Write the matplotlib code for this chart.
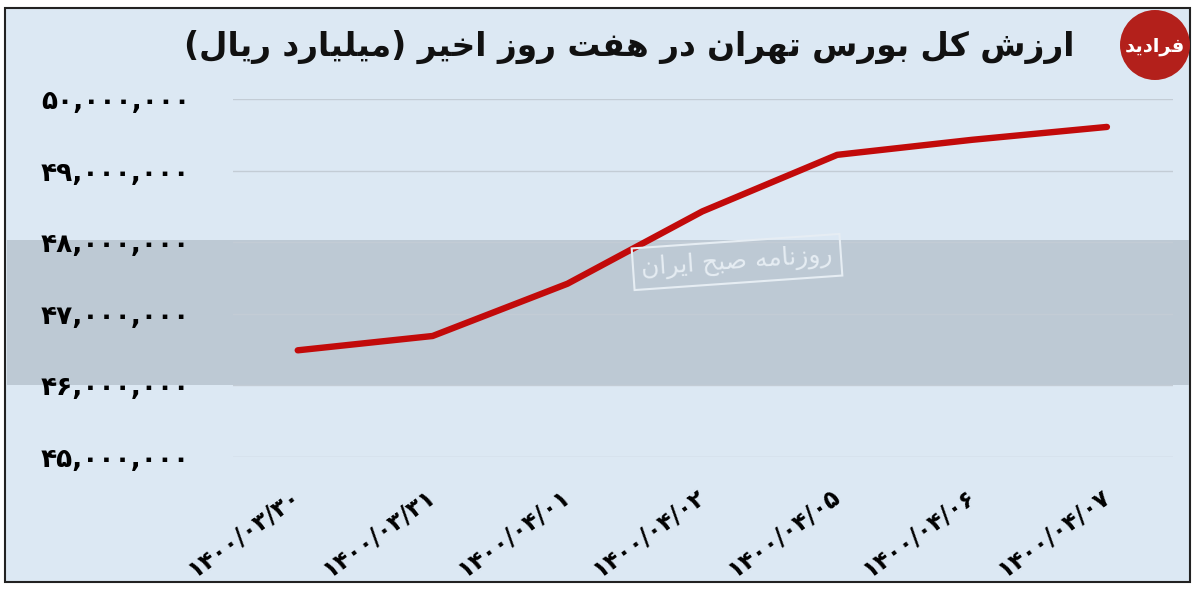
import matplotlib
matplotlib.use("Agg")
import matplotlib.pyplot as plt
from matplotlib.patches import Rectangle, Ellipse
from matplotlib.ticker import FuncFormatter

# data
dates = ["۱۴۰۰/۰۳/۳۰", "۱۴۰۰/۰۳/۳۱", "۱۴۰۰/۰۴/۰۱", "۱۴۰۰/۰۴/۰۲",
         "۱۴۰۰/۰۴/۰۵", "۱۴۰۰/۰۴/۰۶", "۱۴۰۰/۰۴/۰۷"]
value = [46.49e6, 46.69e6, 47.42e6, 48.43e6, 49.22e6, 49.43e6, 49.61e6]
yticks = [45e6, 46e6, 47e6, 48e6, 49e6, 50e6]

title = "ارزش کل بورس تهران در هفت روز اخیر (میلیارد ریال)"
logo = "فرادید"
stamp = "روزنامه صبح ایران"

# matplotlib has no arabic shaping, so pick presentation forms by hand
FORMS = {
    'ا': ('\uFE8D', '\uFE8E', None, None),
    'ب': ('\uFE8F', '\uFE90', '\uFE91', '\uFE92'),
    'ت': ('\uFE95', '\uFE96', '\uFE97', '\uFE98'),
    'ج': ('\uFE9D', '\uFE9E', '\uFE9F', '\uFEA0'),
    'ح': ('\uFEA1', '\uFEA2', '\uFEA3', '\uFEA4'),
    'خ': ('\uFEA5', '\uFEA6', '\uFEA7', '\uFEA8'),
    'د': ('\uFEA9', '\uFEAA', None, None),
    'ر': ('\uFEAD', '\uFEAE', None, None),
    'ز': ('\uFEAF', '\uFEB0', None, None),
    'س': ('\uFEB1', '\uFEB2', '\uFEB3', '\uFEB4'),
    'ش': ('\uFEB5', '\uFEB6', '\uFEB7', '\uFEB8'),
    'ص': ('\uFEB9', '\uFEBA', '\uFEBB', '\uFEBC'),
    'ف': ('\uFED1', '\uFED2', '\uFED3', '\uFED4'),
    'ق': ('\uFED5', '\uFED6', '\uFED7', '\uFED8'),
    'ل': ('\uFEDD', '\uFEDE', '\uFEDF', '\uFEE0'),
    'م': ('\uFEE1', '\uFEE2', '\uFEE3', '\uFEE4'),
    'ن': ('\uFEE5', '\uFEE6', '\uFEE7', '\uFEE8'),
    'ه': ('\uFEE9', '\uFEEA', '\uFEEB', '\uFEEC'),
    'و': ('\uFEED', '\uFEEE', None, None),
    'ک': ('\uFB8E', '\uFB8F', '\uFB90', '\uFB91'),
    'ی': ('\uFBFC', '\uFBFD', '\uFBFE', '\uFBFF'),
}


def shape(text):
    out = []
    for i, ch in enumerate(text):
        if ch not in FORMS:
            out.append(ch)
            continue
        prev = text[i - 1] if i > 0 else ''
        nxt = text[i + 1] if i < len(text) - 1 else ''
        jp = prev in FORMS and FORMS[prev][2] is not None
        jn = FORMS[ch][2] is not None and nxt in FORMS
        iso, fin, ini, med = FORMS[ch]
        if jp and jn:
            out.append(med)
        elif jp:
            out.append(fin)
        elif jn:
            out.append(ini)
        else:
            out.append(iso)
    return ''.join(out)[::-1].translate(str.maketrans('()', ')('))


fa_digits = str.maketrans('0123456789', '۰۱۲۳۴۵۶۷۸۹')

fig = plt.figure(figsize=(12, 5.93), dpi=100)
fig.patch.set_facecolor('white')

# panel with dark frame
fig.add_artist(Rectangle((5 / 1200, 1 - 582 / 593), 1185 / 1200, 574 / 593,
                         transform=fig.transFigure, facecolor='#dce8f3',
                         edgecolor='#222222', lw=1.5, zorder=-2))
# grey watermark band
fig.add_artist(Rectangle((7 / 1200, 1 - 385 / 593), 1182 / 1200, 145 / 593,
                         transform=fig.transFigure, facecolor='#bdc9d4',
                         edgecolor='none', zorder=-1))

ax = fig.add_axes([233 / 1200, 1 - 457 / 593, 940 / 1200, 358 / 593])
ax.set_zorder(1)
ax.set_facecolor('none')
x = list(range(len(dates)))
ax.plot(x, value, color='#c20a0a', lw=4.6, solid_capstyle='round', zorder=3)

ax.set_xlim(-0.48, 6.49)
ax.set_ylim(45e6, 50e6)
ax.set_yticks(yticks)
ax.yaxis.set_major_formatter(FuncFormatter(lambda v, p: f"{v:,.0f}".translate(fa_digits)))
ax.grid(axis='y', color='#c3ccd5', lw=1)
ax.set_axisbelow(True)
ax.set_xticks(x)
ax.set_xticklabels(dates, rotation=36, ha='right', va='center',
                   rotation_mode='anchor', fontsize=17, fontweight='bold')
ax.tick_params(axis='x', length=0, pad=26)
ax.tick_params(axis='y', length=0, pad=31, labelsize=19)
for lab in ax.get_yticklabels():
    lab.set_fontweight('bold')
for s in ax.spines.values():
    s.set_visible(False)

fig.text(1075 / 1200, 1 - 47 / 593, shape(title), ha='right', va='center',
         fontsize=23.6, fontweight='bold', color='#111111')

# small stamp of the watermark
fig.text(737 / 1200, 1 - 262 / 593, shape(stamp), ha='center', va='center',
         fontsize=18, color='#e6edf3', rotation=4,
         bbox=dict(facecolor='none', edgecolor='#e6edf3', lw=1.5, pad=6))

# logo
fig.add_artist(Ellipse((1155 / 1200, 1 - 45 / 593), 70 / 1200, 70 / 593,
                       transform=fig.transFigure, facecolor='#b3201b',
                       edgecolor='none'))
fig.text(1155 / 1200, 1 - 47 / 593, shape(logo), ha='center', va='center',
         fontsize=14, fontweight='bold', color='white')

fig.savefig('out.png', dpi=100)
